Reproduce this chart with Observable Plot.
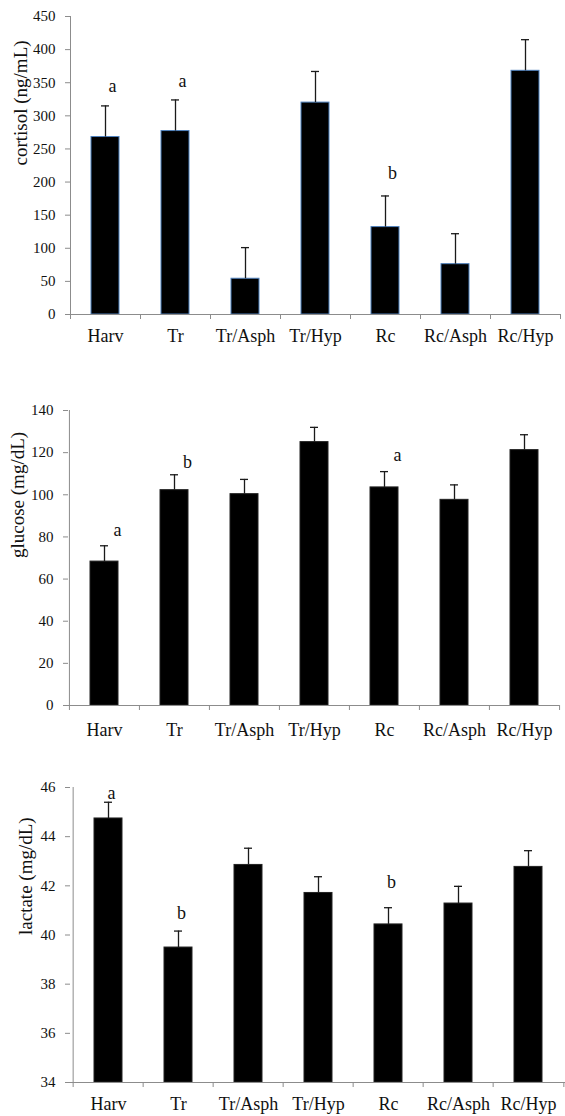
<!DOCTYPE html>
<html>
<head>
<meta charset="utf-8">
<script src="https://cdn.jsdelivr.net/npm/d3@7"></script>
<script src="https://cdn.jsdelivr.net/npm/@observablehq/plot@0.6"></script>
<style>
  html, body { margin: 0; padding: 0; background: white; }
  svg { display: block; }
  svg text { font-family: 'Liberation Serif', 'Times New Roman', serif !important; }
</style>
</head>
<body>
<div id="chart"></div>
<script>
const categories = ["Harv", "Tr", "Tr/Asph", "Tr/Hyp", "Rc", "Rc/Asph", "Rc/Hyp"];

const cortisol    = [268, 277, 54, 320, 132, 76, 368];
const cortisolErr = [47, 47, 47, 47, 47, 46, 47];
const cortisolLetters = ["a", "a", "", "", "b", "", ""];
const cortisolLetterY = [344, 353, null, null, 213, null, null];
const cortisolTicks = [0, 50, 100, 150, 200, 250, 300, 350, 400, 450];

const glucose    = [68.3, 102.2, 100.3, 125.0, 103.5, 97.6, 121.2];
const glucoseErr = [7.5, 7.3, 7.0, 7.0, 7.5, 7.1, 7.3];
const glucoseLetters = ["a", "b", "", "", "a", "", ""];
const glucoseLetterY = [83.4, 115.5, null, null, 118.7, null, null];
const glucoseTicks = [0, 20, 40, 60, 80, 100, 120, 140];

const lactate    = [44.74, 39.49, 42.85, 41.71, 40.43, 41.28, 42.77];
const lactateErr = [0.66, 0.67, 0.68, 0.66, 0.68, 0.70, 0.66];
const lactateLetters = ["a", "b", "", "", "b", "", ""];
const lactateLetterY = [45.78, 40.89, null, null, 42.15, null, null];
const lactateTicks = [34, 36, 38, 40, 42, 44, 46];

const W = 565;
const GRAY = "#8c8c8c";
const FONT = "'Liberation Serif', 'Times New Roman', serif";

function panel(o) {
  const rows = categories.map((c, i) => ({
    cat: c, value: o.values[i], err: o.errs[i], letter: o.letters[i], ly: o.letterY[i]
  }));
  const step = (W - o.ml - o.mr) / categories.length;
  const floor = o.ticks[0];
  return Plot.plot({
    width: W, height: o.height,
    marginLeft: o.ml, marginRight: o.mr, marginTop: o.mt, marginBottom: o.mb,
    style: {fontFamily: FONT, background: "white", color: "#111", overflow: "visible"},
    x: {domain: categories, paddingInner: 0.6, paddingOuter: 0.3, axis: null},
    y: {domain: [floor, o.ticks[o.ticks.length - 1]], axis: null},
    marks: [
      Plot.barY(rows, {x: "cat", y1: floor, y2: "value", fill: "black", stroke: o.barStroke, strokeWidth: 1}),
      Plot.ruleX(rows, {x: "cat", y1: "value", y2: d => d.value + d.err, stroke: "#1a1a1a", strokeWidth: 1.3}),
      Plot.tickY(rows, {x: "cat", y: d => d.value + d.err, insetLeft: 10, insetRight: 10, stroke: "#1a1a1a", strokeWidth: 1.3}),
      Plot.text(rows.filter(d => d.letter), {x: "cat", y: "ly", text: "letter", dx: o.letterDx, fontSize: 18, fontFamily: FONT, fill: "#111"}),
      Plot.ruleY([floor], {stroke: GRAY}),
      Plot.ruleX([categories[0]], {dx: -step / 2, stroke: GRAY}),
      Plot.axisY({ticks: o.ticks, tickSize: 5, tickPadding: 10, fontSize: 15, fontFamily: FONT, fontVariant: "normal", stroke: GRAY, fill: "#111", label: null}),
      Plot.axisX({tickSize: 5, dx: -step / 2, tickFormat: () => "", stroke: GRAY, label: null}),
      Plot.axisX({ticks: [categories[categories.length - 1]], tickSize: 5, dx: step / 2, tickFormat: () => "", stroke: GRAY, label: null}),
      Plot.axisX({tickSize: 0, tickPadding: o.xPad, fontSize: 18, fontFamily: FONT, fill: "#111", label: null}),
      Plot.text([o.label], {frameAnchor: "left", rotate: -90, dx: o.labelDx, fontSize: 19, fontFamily: FONT, fill: "#111"})
    ]
  });
}

const root = document.getElementById("chart");
root.append(panel({
  values: cortisol, errs: cortisolErr, letters: cortisolLetters, letterY: cortisolLetterY,
  ticks: cortisolTicks, label: "cortisol (ng/mL)",
  height: 360, ml: 70, mr: 5, mt: 16, mb: 46, barStroke: "#4f81bd", letterDx: 7, labelDx: -50, xPad: 15
}));
root.append(panel({
  values: glucose, errs: glucoseErr, letters: glucoseLetters, letterY: glucoseLetterY,
  ticks: glucoseTicks, label: "glucose (mg/dL)",
  height: 380, ml: 68, mr: 6, mt: 50, mb: 35, barStroke: "#222", letterDx: 13, labelDx: -51, xPad: 18
}));
root.append(panel({
  values: lactate, errs: lactateErr, letters: lactateLetters, letterY: lactateLetterY,
  ticks: lactateTicks, label: "lactate (mg/dL)",
  height: 376, ml: 70, mr: 0, mt: 47, mb: 34, barStroke: "#222", letterDx: 3, labelDx: -45, xPad: 15
}));
</script>
</body>
</html>
